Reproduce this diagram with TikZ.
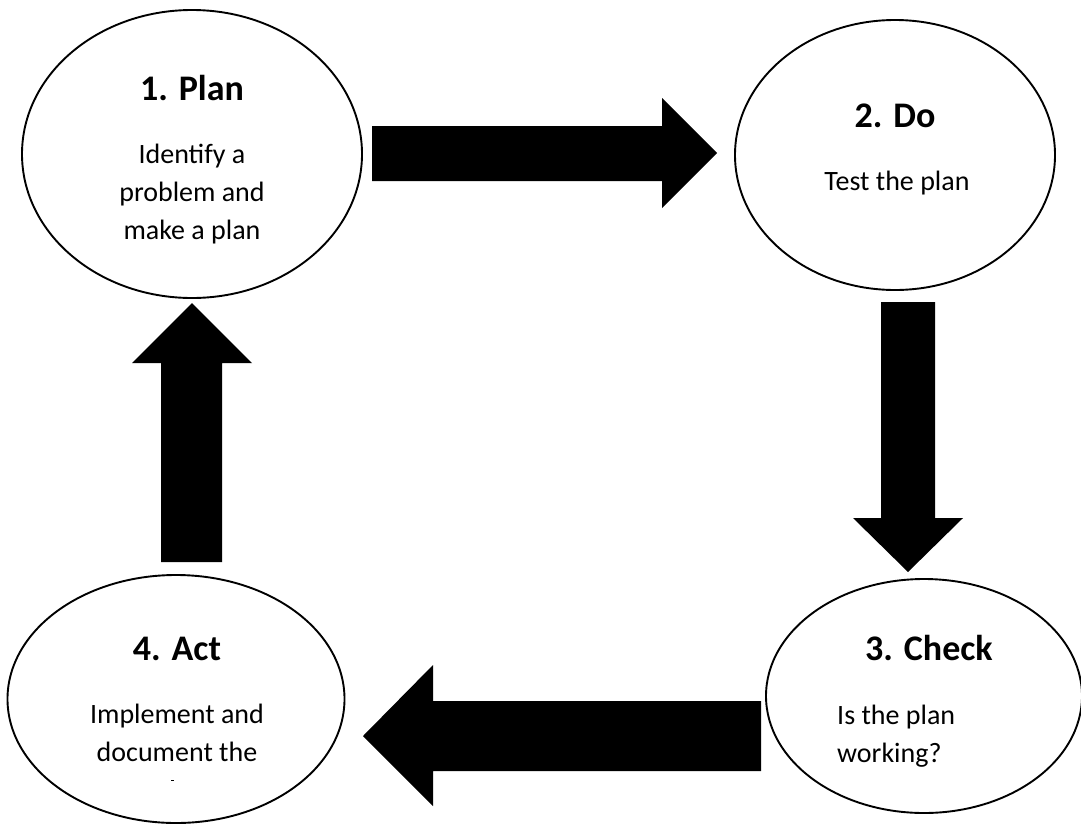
\documentclass[tikz,border=0pt]{standalone}
\usepackage{fontspec}
\setmainfont{Carlito}
\usetikzlibrary{shapes.geometric}
\begin{document}
\begin{tikzpicture}[x=1pt,y=-1pt,
  phase/.style={draw=black, line width=1.9pt, ellipse, inner sep=0pt, fill=white},
  ttl/.style={font=\fontsize{36}{40}\selectfont\bfseries, anchor=base, inner sep=0pt},
  body/.style={font=\fontsize{28}{38}\selectfont, anchor=base, inner sep=0pt},
  blk/.style={fill=black, draw=none}]
\useasboundingbox (0,0) rectangle (1081,825);
% ellipses
\node[phase, minimum width=340pt, minimum height=288pt] (plan) at (192,154) {};
\node[phase, minimum width=320pt, minimum height=270pt] (do) at (895,155) {};
\node[phase, minimum width=316pt, minimum height=234pt] (check) at (924,696) {};
\node[phase, minimum width=337pt, minimum height=248pt] (act) at (176,699) {};
% titles
\node[ttl] (t1) at (192,100) {1. Plan};
\node[ttl] (t2) at (895,127) {2. Do};
\node[ttl] (t3) at (929,660) {3. Check};
\node[ttl] (t4) at (177,660) {4. Act};
% bodies (base anchor = baseline of the last line)
\node[body, align=center] (b1) at (192,239) {Identify a\\problem and\\make a plan};
\node[body] (b2) at (897,190) {Test the plan};
\node[body, align=left, anchor=base west] (b3) at (837,762) {Is the plan\\working?};
\node[body, align=center] (b4) at (177,761) {Implement and\\document the};
\coordinate (d1) at (171,780); \coordinate (d2) at (173.5,780);
\draw[line width=0.8pt] (d1) -- (d2);
% block arrows
\path[blk] (372,126) -- (662,126) -- (662,98) -- (717,153) -- (662,208) -- (662,181) -- (372,181) -- cycle;
\path[blk] (881,302) -- (935,302) -- (935,518) -- (963,518) -- (908,572) -- (853,518) -- (881,518) -- cycle;
\path[blk] (761,701) -- (433,701) -- (433,665) -- (363,736) -- (433,806) -- (433,771) -- (761,771) -- cycle;
\path[blk] (161,562) -- (161,363) -- (132,363) -- (192,303) -- (252,363) -- (222,363) -- (222,562) -- cycle;
\end{tikzpicture}
\end{document}
